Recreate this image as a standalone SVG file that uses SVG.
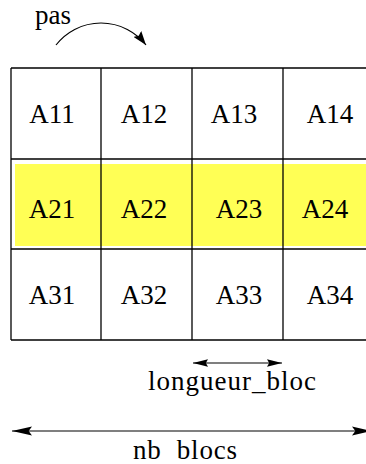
<svg xmlns="http://www.w3.org/2000/svg" width="366" height="464" viewBox="0 0 366 464">
<style>
text{font-family:'Liberation Serif','Times New Roman',serif;font-size:27px;fill:#000;text-anchor:middle}
.g{stroke:#000;stroke-width:1.3;fill:none}
.c{stroke:#000;stroke-width:1.2;fill:none}
</style>
<defs>
<marker id="ah" markerUnits="userSpaceOnUse" markerWidth="20" markerHeight="10" refX="18" refY="4" orient="auto-start-reverse" viewBox="0 0 18 8">
<path d="M0,0 L18,4 L0,8 L3,4 z" fill="#000"/>
</marker>
<marker id="ah2" markerUnits="userSpaceOnUse" markerWidth="15" markerHeight="9" refX="14" refY="4" orient="auto-start-reverse" viewBox="0 0 14 8">
<path d="M0,0.5 L14,4 L0,7.5 L2,4 z" fill="#000"/>
</marker>
<marker id="ah3" markerUnits="userSpaceOnUse" markerWidth="14" markerHeight="10" refX="13" refY="4.5" orient="auto" viewBox="0 0 13 9">
<path d="M0,0 L13,4.5 L0,9 L2,4.5 z" fill="#000"/>
</marker>
</defs>
<rect x="15" y="164" width="360" height="82" fill="#ffff55"/>
<g id="grid" class="g">
<line x1="11" y1="68" x2="366" y2="68"/>
<line x1="11" y1="159" x2="366" y2="159"/>
<line x1="11" y1="249" x2="366" y2="249"/>
<line x1="11" y1="340" x2="366" y2="340"/>
<line x1="11" y1="68" x2="11" y2="340"/>
<line x1="101" y1="68" x2="101" y2="340"/>
<line x1="192" y1="68" x2="192" y2="340"/>
<line x1="283" y1="68" x2="283" y2="340"/>
</g>
<g id="A11"><text x="52" y="123">A11</text></g>
<g id="A12"><text x="144" y="123">A12</text></g>
<g id="A13"><text x="234" y="123">A13</text></g>
<g id="A14"><text x="330" y="123">A14</text></g>
<g id="A21"><text x="52" y="218">A21</text></g>
<g id="A22"><text x="144" y="218">A22</text></g>
<g id="A23"><text x="239" y="218">A23</text></g>
<g id="A24"><text x="325" y="218">A24</text></g>
<g id="A31"><text x="52" y="304">A31</text></g>
<g id="A32"><text x="144" y="304">A32</text></g>
<g id="A33"><text x="239" y="304">A33</text></g>
<g id="A34"><text x="330" y="304">A34</text></g>
<g id="labels">
<text x="53" y="24" font-size="26">pas</text>
<text x="232" y="390" textLength="168" lengthAdjust="spacing">longueur_bloc</text>
<text x="185" y="459" xml:space="preserve" textLength="104" lengthAdjust="spacing">nb  blocs</text>
</g>
<g id="connectors" class="c">
<path d="M56,45 A57,57 0 0 1 146,45" marker-end="url(#ah3)"/>
<line x1="193" y1="363" x2="282" y2="363" marker-start="url(#ah2)" marker-end="url(#ah2)"/>
<line x1="12" y1="431" x2="372" y2="431" marker-start="url(#ah)" marker-end="url(#ah)"/>
</g>
</svg>
